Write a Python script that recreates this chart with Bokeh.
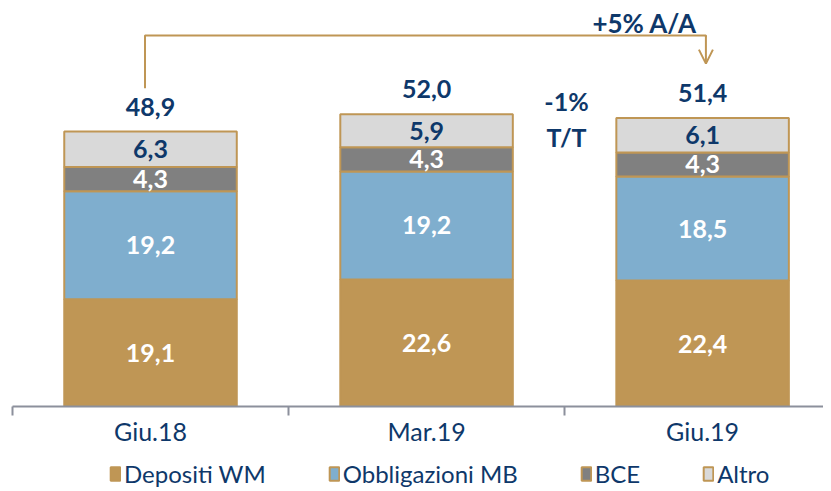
from bokeh.plotting import figure
from bokeh.layouts import column
from bokeh.models import (ColumnDataSource, FixedTicker, Legend, LegendItem, Range1d,
                          Arrow, OpenHead, Label)
from bokeh.core.properties import value
from bokeh.embed import file_html
from bokeh.resources import INLINE

categories = ["Giu.18", "Mar.19", "Giu.19"]
depositi_wm = [19.1, 22.6, 22.4]
obbligazioni_mb = [19.2, 19.2, 18.5]
bce = [4.3, 4.3, 4.3]
altro = [6.3, 5.9, 6.1]
totals = [48.9, 52.0, 51.4]
series_names = ["Depositi WM", "Obbligazioni MB", "BCE", "Altro"]

TAN = "#BF9655"
BLUE = "#7FAECE"
DGRAY = "#808080"
LGRAY = "#D9D9D9"
NAVY = "#0E386A"
AXIS = "#8C909C"
FONT = "Lato"

series = [depositi_wm, obbligazioni_mb, bce, altro]
colors = [TAN, BLUE, DGRAY, LGRAY]
label_colors = ["white", "white", "white", NAVY]
keys = ["dep", "obb", "bce", "alt"]

xpos = list(range(len(categories)))
src = ColumnDataSource(dict(x=xpos, dep=depositi_wm, obb=obbligazioni_mb, bce=bce, alt=altro))

p = figure(frame_width=811, frame_height=398, output_backend="svg", toolbar_location=None,
           x_range=Range1d(-0.5, 2.438), y_range=Range1d(0, 70.8),
           min_border_left=12, min_border_right=0, min_border_top=8, min_border_bottom=45)
p.outline_line_color = None
p.xgrid.visible = False
p.ygrid.visible = False
p.yaxis.visible = False

rends = p.vbar_stack(keys, x="x", width=0.625, source=src, fill_color=colors,
                     line_color=TAN, line_width=2)

# segment labels
for i, x in enumerate(xpos):
    base = 0.0
    for s, col in zip(series, label_colors):
        v = s[i]
        p.text(x=[x], y=[base + v / 2], text=[f"{v:.1f}".replace(".", ",")],
               text_font=value(FONT), text_font_style="bold", text_font_size="25px",
               text_color=col, text_align="center", text_baseline="middle")
        base += v

# totals
p.text(x=xpos, y=totals, text=[f"{t:.1f}".replace(".", ",") for t in totals],
       y_offset=-25, text_font=value(FONT), text_font_style="bold", text_font_size="25px",
       text_color=NAVY, text_align="center", text_baseline="middle")

# bracket annotation
bx0 = xpos[0] - 0.02
bx1 = xpos[2] + 0.012
by = 66.0
p.line(x=[bx0, bx0, bx1, bx1], y=[totals[0] + 7.7, by, by, by - 0.3],
       line_color=TAN, line_width=2)
p.add_layout(Arrow(x_start=bx1, y_start=by, x_end=bx1, y_end=61.0,
                   line_color=TAN, line_width=2,
                   end=OpenHead(size=14, line_color=TAN, line_width=2)))

p.add_layout(Label(x=1.79, y=68.3, text="+5% A/A", text_font=FONT, text_font_style="bold",
                   text_font_size="26px", text_color=NAVY, text_align="center",
                   text_baseline="middle"))
p.add_layout(Label(x=1.507, y=54.4, text="-1%", text_font=FONT, text_font_style="bold",
                   text_font_size="25px", text_color=NAVY, text_align="center",
                   text_baseline="middle"))
p.add_layout(Label(x=1.507, y=48.0, text="T/T", text_font=FONT, text_font_style="bold",
                   text_font_size="25px", text_color=NAVY, text_align="center",
                   text_baseline="middle"))

# x axis
ax = p.xaxis[0]
ax.ticker = FixedTicker(ticks=xpos, minor_ticks=[x - 0.5 for x in xpos])
ax.major_label_overrides = {x: c for x, c in zip(xpos, categories)}
ax.major_tick_line_color = None
ax.major_tick_out = 0
ax.major_tick_in = 0
ax.minor_tick_line_color = AXIS
ax.minor_tick_line_width = 2
ax.minor_tick_out = 9
ax.minor_tick_in = 0
ax.axis_line_color = AXIS
ax.axis_line_width = 2
ax.major_label_text_font = FONT
ax.major_label_text_font_size = "25px"
ax.major_label_text_color = NAVY
ax.major_label_standoff = 0

# legend in its own strip below the chart
lg = figure(width=823, height=40, output_backend="svg", toolbar_location=None,
            x_range=Range1d(0, 1), y_range=Range1d(0, 1),
            x_axis_location=None, y_axis_location=None,
            min_border_left=0, min_border_right=0, min_border_top=0, min_border_bottom=0)
lg.outline_line_color = None
lg.xgrid.visible = False
lg.ygrid.visible = False
lrends = [lg.vbar(x=[0.5], top=[0], width=0.1, fill_color=c, line_color=TAN, line_width=2,
                  visible=False)
          for c in colors]
legend = Legend(items=[LegendItem(label=n, renderers=[r]) for n, r in zip(series_names, lrends)],
                orientation="horizontal", location=(97, 3),
                label_text_font=FONT, label_text_font_size="24px", label_text_color=NAVY,
                glyph_width=12, glyph_height=17, spacing=62, label_standoff=3,
                inactive_fill_alpha=0,
                border_line_color=None, background_fill_alpha=0, padding=0, margin=0)
lg.add_layout(legend)

layout = column(p, lg, spacing=0)
open("out.html", "w").write(file_html(layout, INLINE))
